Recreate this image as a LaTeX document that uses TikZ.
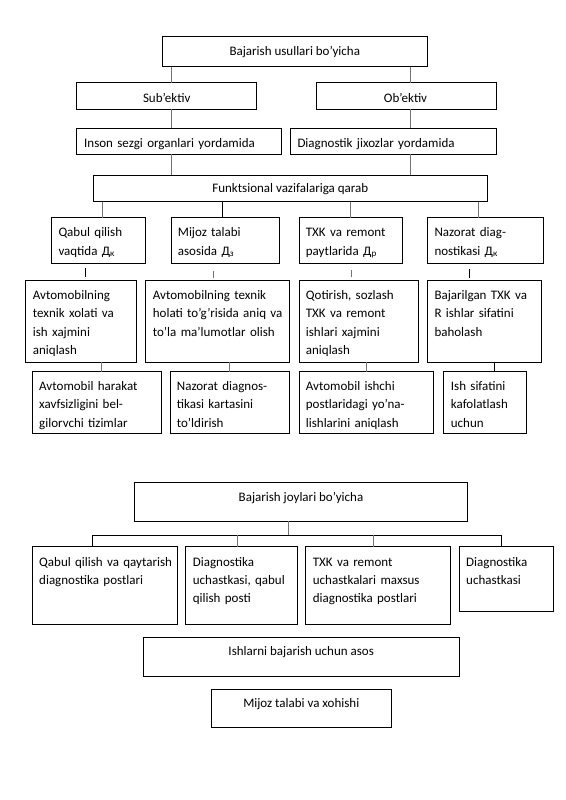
\documentclass[tikz,border=0pt]{standalone}
\usepackage{fontspec}
\setmainfont{Carlito}
\tikzset{
  boxst/.style={draw=black, line width=0.8pt, anchor=north west, inner sep=0pt, outer sep=0pt},
  ltxt/.style={anchor=north west, inner sep=0pt, text width=230pt, align=left, font=\fontsize{13}{18.3}\selectfont},
  ctxt/.style={anchor=north, inner sep=0pt, font=\fontsize{13}{18.3}\selectfont},
  conn/.style={draw=black!55, line width=0.8pt},
  conndark/.style={draw=black, line width=1pt},
}
\newcommand\bbox[5]{\node[boxst, minimum width={(#4-#2)*1pt}, minimum height={(#5-#3)*1pt}] (#1) at (#2,#3) {};}
\newcommand\ltext[4]{\node[ltxt] (#1) at (#2,{#3-12.81}) {\strut #4};}
\newcommand\ctext[4]{\node[ctxt] (#1) at (#2,{#3-12.81}) {\strut #4};}
\begin{document}
\begin{tikzpicture}[x=1pt,y=-1pt]
\useasboundingbox (0,0) rectangle (565,800);
\fill[white] (0,0) rectangle (565,800);

% ---------- top section ----------
\bbox{T0}{162.3}{36.7}{427.3}{66.7}
\ctext{T0t}{294.8}{55}{Bajarish usullari bo’yicha}
\bbox{S1}{76.7}{82.7}{256.7}{109.3}
\ctext{S1t}{166.7}{102.5}{Sub’ektiv}
\bbox{S2}{316}{82.7}{496}{109.3}
\ctext{S2t}{405.5}{102.5}{Ob’ektiv}
\bbox{I1}{76.7}{128.3}{281.7}{154.3}
\ltext{I1t}{84}{147.5}{Inson sezgi organlari yordamida}
\bbox{I2}{290}{128.3}{496}{154.3}
\ltext{I2t}{297.3}{147.5}{Diagnostik jixozlar yordamida}
\bbox{F}{93.3}{175}{487.3}{201.7}
\ctext{Ft}{290.3}{192.5}{Funktsional vazifalariga qarab}

% row A
\bbox{A1}{51.7}{217.5}{145.7}{263.3}
\ltext{A1t}{58.3}{236.5}{Qabul qilish\\vaqtida Д\textsubscript{к}}
\bbox{A2}{171}{217.5}{279.3}{263.3}
\ltext{A2t}{177.7}{236.5}{Mijoz talabi\\asosida Д\textsubscript{з}}
\bbox{A3}{299}{217.5}{402.3}{263.3}
\ltext{A3t}{305.7}{236.5}{TXK va remont\\paytlarida Д\textsubscript{р}}
\bbox{A4}{427.7}{217.5}{543.3}{263.3}
\ltext{A4t}{434.3}{236.5}{Nazorat diag-\\nostikasi Д\textsubscript{к}}

% row B
\bbox{B1}{25.7}{280}{136.7}{362}
\ltext{B1t}{32.7}{299.2}{Avtomobilning\\texnik xolati va\\ish xajmini\\aniqlash}
\bbox{B2}{145}{280}{289}{362}
\ltext{B2t}{152.7}{299.2}{Avtomobilning texnik\\holati to’g’risida aniq va\\to’la ma’lumotlar olish}
\bbox{B3}{299}{280}{418.3}{362}
\ltext{B3t}{305.7}{299.2}{Qotirish, sozlash\\TXK va remont\\ishlari xajmini\\aniqlash}
\bbox{B4}{427.7}{280}{541}{362}
\ltext{B4t}{434.3}{299.2}{Bajarilgan TXK va\\R ishlar sifatini\\baholash}

% row C
\bbox{C1}{32.3}{371.7}{161.7}{433.8}
\ltext{C1t}{39}{390.2}{Avtomobil harakat\\xavfsizligini bel-\\gilorvchi tizimlar}
\bbox{C2}{170}{371.7}{289}{433.8}
\ltext{C2t}{176.7}{390.2}{Nazorat diagnos-\\tikasi kartasini\\to’ldirish}
\bbox{C3}{299}{371.7}{433.3}{433.8}
\ltext{C3t}{305.7}{390.2}{Avtomobil ishchi\\postlaridagi yo’na-\\lishlarini aniqlash}
\bbox{C4}{443.3}{371.7}{526.7}{433.8}
\ltext{C4t}{450.7}{390.2}{Ish sifatini\\kafolatlash\\uchun}

% connector x positions
\coordinate (v1) at (171,0);
\coordinate (v2) at (410,0);
\coordinate (fa) at (102.7,0);
\coordinate (fb) at (222.3,0);
\coordinate (fc) at (350.3,0);
\coordinate (fd) at (478.3,0);
\coordinate (ba) at (101.7,0);
\coordinate (bb) at (229.3,0);
\coordinate (bc) at (366.7,0);
\coordinate (bd) at (494.3,0);
% floating ticks
\coordinate (ta1) at (85.7,268.3);  \coordinate (ta2) at (85.7,277.3);
\coordinate (tb1) at (213.3,271);   \coordinate (tb2) at (213.3,278);
\coordinate (tc1) at (351.7,270);   \coordinate (tc2) at (351.7,277);
\coordinate (td1) at (469.3,269);   \coordinate (td2) at (469.3,277.7);

\draw[conn] (T0.south -| v1) -- (S1.north -| v1);
\draw[conn] (T0.south -| v2) -- (S2.north -| v2);
\draw[conn] (S1.south -| v1) -- (I1.north -| v1);
\draw[conn] (S2.south -| v2) -- (I2.north -| v2);
\draw[conn] (I1.south -| v1) -- (F.north -| v1);
\draw[conn] (I2.south -| v2) -- (F.north -| v2);
\draw[conn] (F.south -| fa) -- (A1.north -| fa);
\draw[conndark] (F.south -| fb) -- (A2.north -| fb);
\draw[conn] (F.south -| fc) -- (A3.north -| fc);
\draw[conn] (F.south -| fd) -- (A4.north -| fd);
\draw[conndark] (ta1) -- (ta2);
\draw[conn] (tb1) -- (tb2);
\draw[conn] (tc1) -- (tc2);
\draw[conndark] (td1) -- (td2);
\draw[conn] (B1.south -| ba) -- (C1.north -| ba);
\draw[conn] (B2.south -| bb) -- (C2.north -| bb);
\draw[conn] (B3.south -| bc) -- (C3.north -| bc);
\draw[conndark] (B4.south -| bd) -- (C4.north -| bd);

% ---------- bottom section ----------
\bbox{J}{134.3}{482.3}{467.7}{521}
\ctext{Jt}{301}{500.9}{Bajarish joylari bo’yicha}
\bbox{D1}{32.3}{546.7}{177.3}{624}
\ltext{D1t}{39}{565.9}{Qabul qilish va qaytarish\\diagnostika postlari}
\bbox{D2}{185.7}{546.7}{297.3}{624}
\ltext{D2t}{192.7}{565.9}{Diagnostika\\uchastkasi, qabul\\qilish posti}
\bbox{D3}{305.7}{546.7}{450.7}{624}
\ltext{D3t}{312.7}{565.9}{TXK va remont\\uchastkalari maxsus\\diagnostika postlari}
\bbox{D4}{459}{546.7}{553.3}{611}
\ltext{D4t}{466}{565.9}{Diagnostika\\uchastkasi}
\bbox{K}{143.3}{637.3}{459}{676}
\ctext{Kt}{301.2}{654.9}{Ishlarni bajarish uchun asos}
\bbox{M}{211.7}{689.3}{391}{727.3}
\ctext{Mt}{301.3}{707.5}{Mijoz talabi va xohishi}

\coordinate (jt) at (288.3,0);
\coordinate (hy) at (0,535);
\coordinate (da) at (92.3,0);
\coordinate (db) at (237.3,0);
\coordinate (dc) at (373.3,0);
\coordinate (dd) at (501.7,0);
\draw[conn] (J.south -| jt) -- (jt |- hy);
\draw[conndark] (da |- hy) -- (dd |- hy);
\draw[conndark] (da |- hy) -- (D1.north -| da);
\draw[conn] (db |- hy) -- (D2.north -| db);
\draw[conn] (dc |- hy) -- (D3.north -| dc);
\draw[conndark] (dd |- hy) -- (D4.north -| dd);
\end{tikzpicture}
\end{document}
